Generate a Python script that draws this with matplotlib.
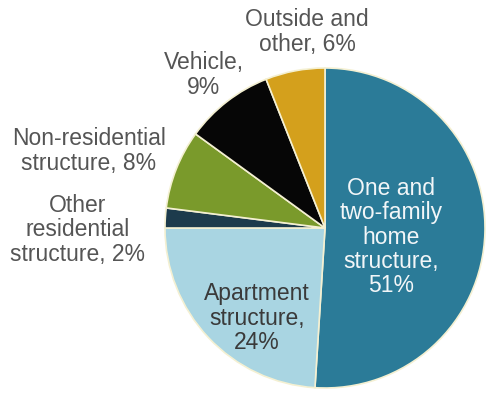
import matplotlib.pyplot as plt

plt.rcParams['font.family'] = ['Liberation Sans', 'DejaVu Sans']

categories = ['One and\ntwo-family\nhome\nstructure', 'Apartment\nstructure',
              'Other\nresidential\nstructure', 'Non-residential\nstructure',
              'Vehicle', 'Outside and\nother']
shares = [51, 24, 2, 8, 9, 6]
# how the percentage joins the name in each label
joins = ['\n', '\n', ' ', ' ', '\n', ' ']
colors = ['#2b7b98', '#a9d5e2', '#1d3b4c', '#7a9a2b', '#060606', '#d4a01c']

# label anchor (figure px from top-left) and colour for each slice
label_pos = [(391, 237), (257, 318), (78, 230), (89, 151), (204, 75), (307, 32)]
label_col = ['#f2f6f8', '#3a3a3a', '#555555', '#555555', '#555555', '#555555']

W, H = 487, 393
fig = plt.figure(figsize=(W / 100, H / 100), dpi=100)
fig.patch.set_facecolor('white')

# pie centre at (325, 228) px, radius 160 px
cx, cy, r = 325, 228, 160
ax = fig.add_axes([(cx - r) / W, (H - cy - r) / H, 2 * r / W, 2 * r / H])
ax.pie(shares, colors=colors, startangle=90, counterclock=False,
       wedgeprops=dict(edgecolor='#f4f0d2', linewidth=1.2))
ax.set_xlim(-1, 1)
ax.set_ylim(-1, 1)
ax.set_aspect('equal')
ax.axis('off')

for name, val, j, (px, py), c in zip(categories, shares, joins, label_pos, label_col):
    fig.text(px / W, 1 - py / H, f'{name},{j}{val}%', ha='center', va='center',
             fontsize=16.5, color=c, linespacing=1.08)

fig.savefig('out.png', dpi=100)
